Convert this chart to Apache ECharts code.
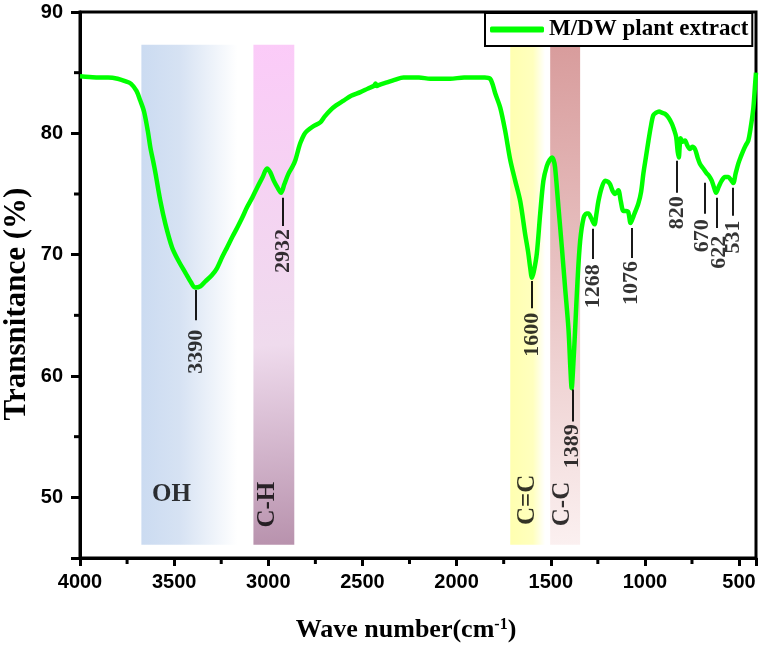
<!DOCTYPE html>
<html>
<head>
<meta charset="utf-8">
<script src="https://cdn.jsdelivr.net/npm/echarts@6/dist/echarts.min.js"></script>
<style>html,body{margin:0;padding:0;background:#fff}#c{width:762px;height:658px}</style>
</head>
<body>
<div id="c"></div>
<script>
// ---- data ----
const seriesName = 'M/DW plant extract';
const wavenumber = [4000,3950,3900,3850,3800,3760,3730,3700,3680,3660,3640,3626,3610,3599,3573,3546,3511,3477,3440,3410,3390,3360,3334,3300,3272,3245,3219,3190,3166,3140,3113,3085,3060,3030,3007,2990,2971,2950,2932,2915,2892,2870,2856,2840,2830,2810,2794,2760,2724,2700,2671,2640,2600,2560,2511,2470,2440,2430,2423,2410,2370,2330,2282,2200,2140,2080,2034,1960,1900,1850,1822,1808,1795,1768,1742,1715,1689,1662,1636,1620,1609,1600,1590,1574,1556,1539,1521,1506,1494,1485,1477,1459,1441,1424,1406,1395,1389,1380,1370,1358,1344,1326,1310,1300,1285,1268,1258,1247,1230,1211,1195,1185,1170,1158,1141,1128,1114,1100,1088,1076,1060,1035,1020,1008,995,981,968,955,940,925,910,893,875,857,845,834,826,820,815,810,800,787,775,761,748,734,720,708,690,672,660,645,632,622,608,592,575,557,545,531,518,504,490,477,465,451,438,424,415,410];
const transmittance = [84.7,84.65,84.6,84.6,84.5,84.3,84.1,83.5,82.7,81.8,80.2,78.8,77.6,76.7,74.4,72.5,70.6,69.5,68.5,67.7,67.3,67.4,67.8,68.3,68.9,69.8,70.6,71.5,72.2,73.0,73.9,74.7,75.5,76.4,77.1,76.8,76.1,75.5,75.1,75.8,76.7,77.3,77.8,78.7,79.2,79.9,80.2,80.6,80.9,81.4,81.9,82.3,82.7,83.1,83.4,83.7,83.9,84.1,83.9,84.0,84.2,84.4,84.6,84.6,84.5,84.5,84.5,84.6,84.6,84.6,84.5,84.0,83.3,82.1,80.2,77.8,76.1,74.4,71.7,70.2,68.9,68.1,68.6,70.1,73.4,76.1,77.3,77.8,78.0,77.8,77.2,73.9,70.6,67.3,63.9,60.4,59.0,61.0,64.0,67.8,71.1,73.0,73.4,73.4,73.0,72.5,73.3,74.4,75.5,76.1,76.0,75.8,75.2,75.0,75.3,74.4,73.6,73.6,73.5,72.6,73.2,74.2,75.2,76.7,78.0,79.4,80.6,81.5,81.7,81.8,81.7,81.6,81.3,80.8,80.3,79.7,78.5,78.0,79.0,79.6,79.3,79.4,79.0,78.7,78.9,78.7,78.0,77.5,77.1,76.7,76.5,76.1,75.5,75.1,75.6,76.1,76.4,76.4,76.2,75.9,76.7,77.5,78.1,78.6,79.0,79.4,80.5,82.1,84.0,85.0];

const xMin = 410, xMax = 4000, yMin = 45, yMax = 90;
const xLabelStep = 500;   // labelled x ticks: 500 ... 4000
const yLabelStep = 10;    // labelled y ticks: 50 ... 90
const xMinorTicks = [750,1250,1750,2250,2750,3250,3750];
const yMinorTicks = [55,65,75,85];

// peak annotations
const peakNames  = ['3390','2932','1600','1389','1268','1076','820','670','622','531'];
const peakPos    = [3383,2922,1600,1383,1276,1070,829,680,618,532];
const peakLineTop    = [67.08,74.69,67.82,58.89,72.13,72.2,77.75,75.93,74.69,75.52];
const peakLineBottom = [64.6,72.37,65.59,56.24,69.64,69.73,75.1,73.37,72.2,73.2];
const peakLabelX = [3383,2922,1600,1383,1276,1070,829,697,607,532];
const peakLabelY = [62.0,70.3,63.4,54.2,67.4,67.66,73.45,71.55,70.2,71.46];

// shaded bands
const bandNames  = ['OH','C-H','C=C','C-C'];
const bandFrom   = [3674,3079,1715,1503];
const bandTo     = [3164,2862,1530,1344];
const bandTop    = 87.3;
const bandBottom = 46.1;
const bandLabelX = [3514,3005,1625,1439];
const bandLabelY = [50.2,49.4,49.8,49.45];
const bandLabelRotate = [0,90,90,90];

// ---- styles ----
const bandColors = [
  {type:'linear',x:0,y:0,x2:1,y2:0,colorStops:[{offset:0,color:'#cbdbf1'},{offset:0.4,color:'#d6e2f3'},{offset:1,color:'#ffffff'}]},
  {type:'linear',x:0,y:0,x2:1,y2:1,colorStops:[{offset:0,color:'#fbcbf8'},{offset:0.6,color:'#efdbed'},{offset:1,color:'#b892ad'}]},
  {type:'linear',x:0,y:0,x2:1,y2:0,colorStops:[{offset:0,color:'#ffffb0'},{offset:0.65,color:'#ffffbe'},{offset:1,color:'#ffffff'}]},
  {type:'linear',x:0,y:0,x2:1,y2:1,colorStops:[{offset:0,color:'#d89c9c'},{offset:1,color:'#fbf0f0'}]}
];
const serif = '"Liberation Serif", "Times New Roman", serif';
const sans = '"Liberation Sans", Arial, sans-serif';

const lineData = wavenumber.map((w,i)=>[w, transmittance[i]]);
const markAreaData = bandNames.map((n,i)=>[
  {xAxis: bandFrom[i], yAxis: bandTop, itemStyle:{color: bandColors[i]}},
  {xAxis: bandTo[i], yAxis: bandBottom}
]);
const markLineData = peakNames.map((n,i)=>[
  {coord:[peakPos[i], peakLineTop[i]]},
  {coord:[peakPos[i], peakLineBottom[i]]}
]);
const peakLabelData = peakNames.map((n,i)=>({name:n, value:[peakLabelX[i], peakLabelY[i]]}));
const bandLabelData = bandNames.map((n,i)=>({name:n, value:[bandLabelX[i], bandLabelY[i]],
  label:{rotate: bandLabelRotate[i]}}));

// minor ticks placed through the axes' own scale (api.coord)
const minorTickData = xMinorTicks.map(v=>[v, yMin, 0]).concat(yMinorTicks.map(v=>[xMax, v, 1]));

const chart = echarts.init(document.getElementById('c'), null, {renderer:'canvas'});
chart.setOption({
  animation:false,
  backgroundColor:'#fff',
  grid:{left:80, right:6, top:12, bottom:100, show:true, borderColor:'#000', borderWidth:3, backgroundColor:'transparent'},
  legend:{
    data:[seriesName], left:485, top:13, icon:'roundRect', itemWidth:54, itemHeight:6,
    backgroundColor:'#fff', borderColor:'#000', borderWidth:2, borderRadius:0, padding:[5,4,5,5],
    textStyle:{fontFamily:serif, fontWeight:'bold', fontSize:23, color:'#000'}
  },
  xAxis:{
    type:'value', inverse:true, min:xMin, max:xMax, splitNumber:7,
    splitLine:{show:false},
    axisLine:{onZero:false, lineStyle:{color:'#000', width:3}},
    axisTick:{show:true, length:8, lineStyle:{color:'#000', width:3}},
    axisLabel:{fontFamily:sans, fontWeight:'bold', fontSize:20, color:'#000', margin:14,
      showMinLabel:true, showMaxLabel:true,
      formatter:v => (Math.abs(v % xLabelStep) < 1e-6 ? String(v) : '')}
  },
  yAxis:{
    type:'value', min:yMin, max:yMax, splitNumber:5,
    splitLine:{show:false},
    axisLine:{onZero:false, lineStyle:{color:'#000', width:3}},
    axisTick:{show:true, length:9, lineStyle:{color:'#000', width:3}},
    axisLabel:{fontFamily:sans, fontWeight:'bold', fontSize:20, color:'#000', margin:17,
      formatter:v => (Math.abs(v % yLabelStep) < 1e-6 ? String(v) : '')}
  },
  graphic:[
    {type:'text', x:406, y:630, z:10, style:{
      text:'{a|Wave number(cm}{s|-1}{a|)}', textAlign:'center', textVerticalAlign:'middle',
      rich:{a:{fontFamily:serif, fontWeight:'bold', fontSize:26, fill:'#000'},
            s:{fontFamily:serif, fontWeight:'bold', fontSize:16, fill:'#000', verticalAlign:'top', padding:[0,0,10,0]}}
    }},
    {type:'text', x:17, y:304, rotation:Math.PI/2, z:10, style:{
      text:'Transnitance (%)', fontFamily:serif, fontWeight:'bold', fontSize:31, fill:'#000',
      textAlign:'center', textVerticalAlign:'middle'
    }}
  ],
  series:[
    {type:'scatter', name:'bands', data:[], z:1, silent:true,
      markArea:{silent:true, data:markAreaData}},
    {type:'scatter', name:'bandLabels', data:bandLabelData, symbolSize:0, z:5, silent:true,
      label:{show:true, position:'inside', formatter:'{b}', fontFamily:serif, fontWeight:'bold', fontSize:25, color:'#000'}},
    {type:'line', name:seriesName, data:lineData, showSymbol:false, smooth:0.3, z:3,
      lineStyle:{color:'#00ff00', width:4.5}, itemStyle:{color:'#00ff00'},
      markLine:{silent:true, symbol:['none','none'], label:{show:false},
        lineStyle:{color:'#000', width:1.8, type:'solid'}, data:markLineData}},
    {type:'scatter', name:'peakLabels', data:peakLabelData, symbolSize:0, z:5, silent:true,
      label:{show:true, position:'inside', rotate:90, formatter:'{b}', fontFamily:serif, fontWeight:'bold', fontSize:22, color:'#000'}},
    {type:'custom', name:'minorTicks', data:minorTickData, silent:true, z:6, clip:false,
      encode:{x:0, y:1},
      renderItem:(params, api) => {
        const p = api.coord([api.value(0), api.value(1)]);
        const isY = api.value(2) === 1;
        return {type:'line',
          shape: isY ? {x1:p[0], y1:p[1], x2:p[0]-6, y2:p[1]} : {x1:p[0], y1:p[1], x2:p[0], y2:p[1]+6},
          style:{stroke:'#000', lineWidth:3}};
      }}
  ]
});
</script>
</body>
</html>
